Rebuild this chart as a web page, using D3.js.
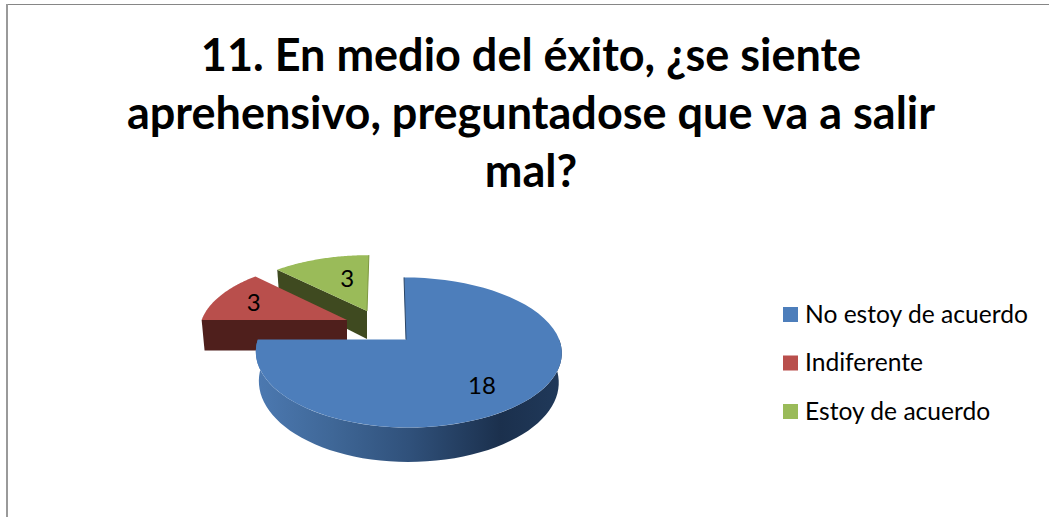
<!DOCTYPE html>
<html>
<head>
<meta charset="utf-8">
<script src="https://cdn.jsdelivr.net/npm/d3@7"></script>
<style>
  html, body { margin: 0; padding: 0; background: #fff; overflow: hidden; }
  text { font-family: Lato, "Open Sans", sans-serif; fill: #000; }
</style>
</head>
<body>
<div id="chart"></div>
<script>
// Chart values
const categories = ["No estoy de acuerdo", "Indiferente", "Estoy de acuerdo"];
const values = [18, 3, 3];
const titleLines = ["11. En medio del éxito, ¿se siente", "aprehensivo, preguntadose que va a salir", "mal?"];

// Colours for each slice
const topColors = ["#4d7ebb", "#b94f4c", "#9abb59"];
const sideColors = ["url(#blueSide)", "#4f1f1c", "#3f4a20"];
const edgeColors = ["#2a4566", "#7d3230", "#7d983f"];

const width = 1049, height = 517;

// Layout of the tilted pie
const originX = 406, originY = 339.5;
const radiusX = 153, radiusY = 72.8;
const perspective = 0.173;       // front of the pie is drawn bigger than the back
const explodeX = [0, -59, -39];  // how far each slice is pulled out
const explodeY = [0, -19.5, -28.5];
const sliceScale = [1, 0.95, 0.9];
const sliceStretch = [0.985, 1, 1.05];
const sliceBias = [2.5, 0, 0];   // the big slice sits a little right of its apex
const sliceSkew = [2, 0, -2];
const sliceDepth = [28.5, 32, 31];

const svg = d3.select("#chart").append("svg")
  .attr("width", width)
  .attr("height", height);

// Gradient for the outer wall of the big slice
const grad = svg.append("defs").append("linearGradient").attr("id", "blueSide");
[[0, "#4c79b1"], [0.25, "#3f6797"], [0.5, "#30517b"], [0.8, "#1b304d"], [1, "#20395a"]].forEach(s => {
  grad.append("stop").attr("offset", s[0]).attr("stop-color", s[1]);
});

// Frame (only the top and left edges show in the window)
svg.append("line").attr("x1", 7).attr("x2", width).attr("y1", 4.5).attr("y2", 4.5)
  .attr("stroke", "#868686").attr("stroke-width", 1);
svg.append("line").attr("x1", 7).attr("x2", 7).attr("y1", 4).attr("y2", height)
  .attr("stroke", "#9a9a9a").attr("stroke-width", 2);

// Title
svg.append("g").selectAll("text")
  .data(titleLines)
  .enter()
  .append("text")
  .attr("x", 531)
  .attr("y", (d, i) => 71 + i * 58)
  .attr("text-anchor", "middle")
  .attr("font-size", 45)
  .attr("font-weight", 700)
  .text(d => d);

const pie = d3.pie().sort(null).value(d => d);
const arcs = pie(values);

// Point on a slice: r is 0..1 from the apex, lowered is 0 on the top face, 1 on the bottom rim
function project(i, angle, r, lowered) {
  const u = Math.sin(angle) * r, v = -Math.cos(angle) * r;
  const s = 1 / (1 - perspective * v);
  const shrink = lowered ? 0.98 : 1;
  const x = (radiusX * u * s * shrink + sliceSkew[i] * v) * sliceScale[i] * sliceStretch[i]
    + sliceBias[i] * r * Math.abs(Math.sin(angle));
  const y = (radiusY * v * s + (lowered ? sliceDepth[i] * s : 0)) * sliceScale[i];
  return [originX + explodeX[i] + x, originY + explodeY[i] + y];
}

function rim(i, a0, a1, lowered) {
  const n = 60;
  return d3.range(n + 1).map(k => project(i, a0 + (a1 - a0) * k / n, 1, lowered));
}

const line = d3.line().curve(d3.curveLinear);

// Walls are drawn under the top faces, back slices first
[2, 1, 0].forEach(i => {
  const a = arcs[i];
  const g = svg.append("g");
  let wall;
  if (i === 0) {
    // outer wall of the big slice, from the right side round to the left
    const from = Math.PI * 0.5;
    wall = rim(i, from, a.endAngle, false).concat(rim(i, from, a.endAngle, true).reverse());
  } else {
    // cut face on the front of the slice
    wall = [project(i, a.startAngle, 0, false), project(i, a.startAngle, 1, false),
            project(i, a.startAngle, 1, true), project(i, a.startAngle, 0, true)];
  }
  g.append("path").attr("d", line(wall) + "Z").attr("fill", sideColors[i]);

  const face = [project(i, a.startAngle, 0, false)].concat(rim(i, a.startAngle, a.endAngle, false));
  g.append("path").attr("d", line(face) + "Z").attr("fill", topColors[i]);

  // thin dark edge where the slice starts or ends at twelve o'clock
  if (i !== 1) {
    const top = i === 0 ? a.startAngle : a.endAngle;
    g.append("path")
      .attr("d", line([project(i, 0, 0, false), project(i, top, 1, false)]))
      .attr("stroke", edgeColors[i]).attr("stroke-width", 1).attr("fill", "none");
  }
});

// Value labels
const labelAngle = [Math.PI * 0.79, Math.PI * 1.618, Math.PI * 1.909];
const labelRadius = [0.72, 0.72, 0.557];
svg.append("g").selectAll("text")
  .data(arcs)
  .enter()
  .append("text")
  .attr("x", (d, i) => project(i, labelAngle[i], labelRadius[i], false)[0])
  .attr("y", (d, i) => project(i, labelAngle[i], labelRadius[i], false)[1])
  .attr("text-anchor", "middle")
  .attr("dy", "0.35em")
  .attr("font-size", 24)
  .text(d => d.value);

// Legend
const legendY = d3.scalePoint().domain(categories).range([314.5, 411.5]);
const legend = svg.append("g").selectAll("g")
  .data(categories)
  .enter()
  .append("g")
  .attr("transform", d => `translate(783,${legendY(d)})`);
legend.append("rect")
  .attr("y", -7.5)
  .attr("width", 15)
  .attr("height", 15)
  .attr("fill", (d, i) => topColors[i]);
legend.append("text")
  .attr("x", 22)
  .attr("y", 8)
  .attr("font-size", 24.6)
  .text(d => d);
</script>
</body>
</html>
